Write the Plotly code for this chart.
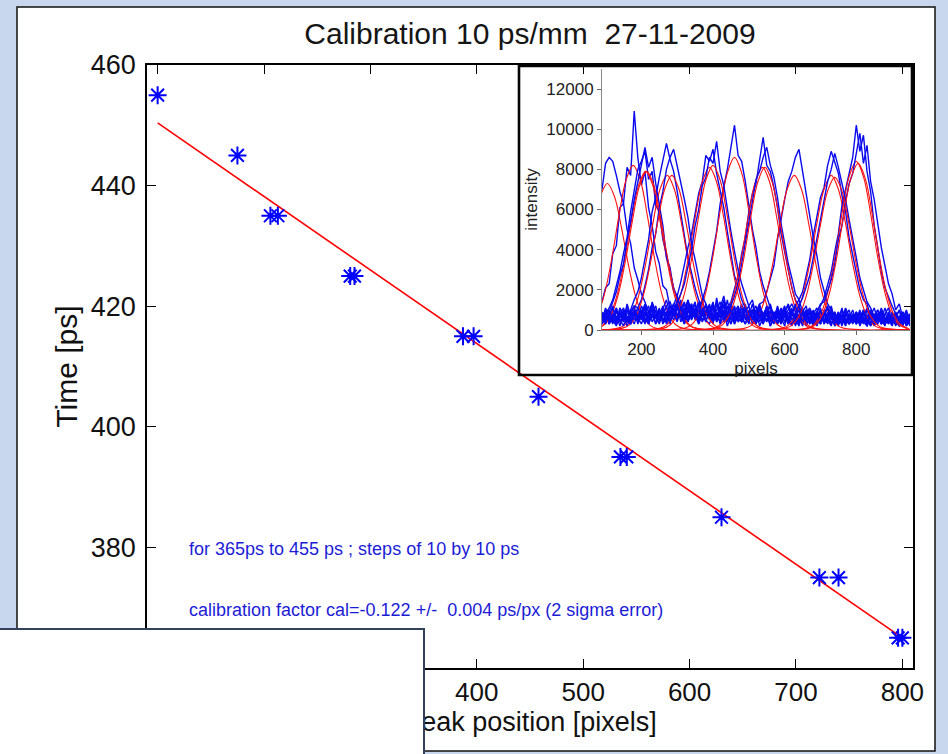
import plotly.graph_objects as go

W, H = 948, 754

# ---------------- main calibration data ----------------
peak_px = [100, 175, 206, 213, 281, 285, 387, 397, 458, 535, 541, 630, 722, 740, 796, 800]
time_ps = [455, 445, 435, 435, 425, 425, 415, 415, 405, 395, 395, 385, 375, 375, 365, 365]
fit_px = [100, 800]
fit_ps = [450.4, 365.0]

x_ticks = [100, 200, 300, 400, 500, 600, 700, 800]
y_ticks = [360, 380, 400, 420, 440, 460]

title_text = "Calibration 10 ps/mm\u00a0\u00a027-11-2009"
note_1 = "for 365ps to 455 ps ; steps of 10 by 10 ps"
note_2 = "calibration factor cal=-0.122 +/-\u00a0\u00a00.004 ps/px (2 sigma error)"

# ---------------- inset: measured spectra (x = 90..950 step 10) ----------------
inset_x = list(range(90, 951, 10))

spec_1 = [7000, 8300, 8600, 8400, 7700, 6900, 6300, 5000, 4300, 3100,
          2500, 1800, 1400, 900, 1300, 600, 900, 400, 800, 300,
          1000, 500, 800, 300, 1200, 600, 900, 400, 1100, 500,
          300, 800, 500, 1100, 400, 700, 300, 900, 600, 400,
          800, 400, 1000, 300, 700, 500, 900, 200, 600, 800,
          400, 700, 300, 900, 500, 200, 800, 400, 1000, 300,
          600, 300, 800, 400, 700, 900, 300, 600, 200, 700,
          300, 600, 900, 400, 200, 700, 500, 800, 300, 600,
          400, 700, 300, 500, 800, 200, 600]
spec_2 = [1400, 2100, 2300, 3800, 4200, 6100, 6300, 8100, 7700, 10900,
          8600, 7200, 7900, 6100, 5200, 3900, 3300, 2200, 2000, 1100,
          900, 1300, 600, 900, 400, 1200, 700, 300, 1000, 500,
          800, 300, 1400, 600, 900, 200, 700, 1100, 400, 600,
          300, 800, 500, 1000, 200, 600, 900, 400, 700, 300,
          600, 200, 900, 500, 300, 800, 400, 1000, 300, 500,
          200, 700, 400, 900, 300, 600, 200, 800, 500, 300,
          700, 300, 500, 1000, 200, 600, 400, 800, 300, 500,
          400, 700, 200, 600, 300, 500, 200]
spec_3 = [500, 800, 1100, 1500, 2200, 2900, 3800, 4600, 5900, 6900,
          8000, 8400, 8900, 7500, 7900, 6200, 5900, 4500, 3800, 2900,
          2100, 1600, 1200, 600, 900, 1300, 500, 800, 1500, 700,
          1000, 400, 1600, 800, 1200, 500, 900, 300, 700, 1100,
          600, 900, 300, 700, 1000, 400, 800, 200, 600, 900,
          300, 700, 500, 200, 800, 400, 1100, 300, 600, 200,
          800, 400, 600, 300, 900, 200, 500, 700, 300, 600,
          400, 800, 300, 600, 200, 900, 500, 300, 700, 400,
          600, 300, 800, 200, 500, 300, 600]
spec_4 = [300, 800, 400, 700, 500, 900, 600, 800, 1000, 1500,
          1900, 2600, 3600, 4500, 5900, 6600, 7600, 8400, 9300, 8500,
          7900, 6900, 5900, 4700, 3600, 2800, 2100, 1500, 1100, 900,
          600, 1200, 400, 900, 1500, 700, 1100, 300, 800, 1300,
          500, 1000, 700, 300, 900, 600, 1200, 400, 700, 300,
          900, 400, 600, 1000, 200, 700, 500, 800, 300, 600,
          400, 900, 300, 600, 1000, 400, 700, 200, 800, 500,
          600, 300, 900, 400, 700, 200, 600, 1000, 400, 300,
          500, 800, 300, 600, 200, 700, 400]
spec_5 = [400, 800, 300, 1100, 600, 900, 400, 1300, 700, 1000,
          500, 1200, 800, 400, 1400, 900, 600, 1100, 1500, 800,
          1300, 1700, 2400, 3300, 4100, 4800, 5900, 6800, 7400, 8700,
          8400, 9000, 7800, 7000, 6100, 4900, 3800, 2700, 2200, 1500,
          1100, 700, 1300, 500, 900, 300, 800, 1200, 400, 700,
          300, 800, 500, 1000, 400, 700, 200, 900, 600, 300,
          700, 300, 900, 500, 200, 800, 400, 600, 1000, 300,
          500, 900, 200, 600, 400, 800, 300, 700, 500, 200,
          800, 400, 600, 300, 700, 200, 500]
spec_6 = [700, 300, 900, 500, 200, 800, 400, 1000, 600, 300,
          900, 500, 1200, 300, 800, 600, 1100, 400, 900, 700,
          1300, 500, 1000, 1400, 600, 900, 700, 1200, 1500, 2100,
          2900, 4000, 4900, 6300, 7200, 8000, 9100, 10200, 8700, 8400,
          7400, 6200, 5000, 4100, 2900, 2200, 1600, 1100, 800, 600,
          1000, 400, 700, 300, 900, 500, 800, 200, 600, 1000,
          300, 600, 900, 400, 700, 200, 800, 500, 300, 700,
          400, 700, 300, 900, 500, 200, 600, 800, 400, 600,
          300, 700, 400, 200, 600, 300, 500]
spec_7 = [300, 600, 1000, 400, 700, 200, 900, 500, 300, 800,
          400, 1000, 600, 300, 800, 1200, 500, 900, 300, 700,
          1100, 600, 1500, 800, 400, 1200, 700, 1000, 500, 800,
          1300, 600, 1000, 1400, 700, 1100, 1400, 2000, 2700, 3800,
          4600, 5900, 6800, 7300, 8400, 9600, 8200, 7900, 7100, 6100,
          4800, 3900, 2900, 2100, 1500, 1200, 700, 1000, 400, 800,
          500, 1100, 300, 700, 900, 400, 600, 1000, 300, 500,
          800, 300, 600, 1000, 400, 700, 200, 500, 900, 300,
          600, 400, 800, 200, 500, 700, 300]
spec_8 = [500, 900, 300, 700, 1100, 400, 800, 200, 600, 1000,
          300, 700, 1100, 500, 800, 300, 1000, 600, 400, 900,
          700, 1200, 400, 900, 1400, 600, 1000, 300, 800, 1200,
          500, 900, 1300, 600, 1000, 400, 800, 1200, 500, 900,
          1200, 700, 1000, 900, 1300, 1400, 1900, 2600, 3200, 4500,
          5600, 6500, 7400, 7900, 8600, 9000, 7900, 6900, 5700, 4600,
          3700, 2600, 2000, 1300, 1000, 500, 900, 300, 700, 1000,
          400, 700, 300, 900, 500, 1000, 400, 600, 300, 800,
          500, 200, 700, 400, 900, 300, 600]
spec_9 = [800, 400, 1000, 600, 300, 900, 500, 1200, 400, 700,
          1100, 600, 900, 300, 1300, 700, 500, 1000, 800, 400,
          900, 1500, 600, 1100, 400, 800, 1300, 500, 1000, 700,
          1200, 500, 900, 300, 800, 1100, 600, 400, 1000, 700,
          300, 800, 500, 1000, 600, 300, 900, 400, 700, 1100,
          500, 900, 1300, 800, 1200, 1500, 1900, 2700, 3500, 4700,
          5700, 6600, 7100, 8200, 8900, 8400, 7800, 6700, 5900, 4600,
          3700, 2900, 2000, 1500, 1300, 700, 1100, 500, 800, 400,
          900, 300, 600, 1000, 400, 700, 300]
spec_10 = [400, 800, 300, 600, 1000, 500, 200, 700, 400, 900,
           600, 300, 800, 1200, 400, 700, 1000, 300, 600, 800,
           500, 1100, 700, 300, 900, 1300, 600, 1000, 400, 800,
           1000, 400, 700, 1200, 500, 900, 300, 800, 600, 1100,
           700, 300, 1000, 500, 800, 400, 1200, 600, 300, 900,
           400, 800, 600, 1100, 300, 700, 1000, 500, 800, 600,
           900, 1200, 1600, 2200, 2900, 3900, 4800, 6200, 7000, 7900,
           8600, 10200, 8900, 9700, 7900, 6900, 5200, 4100, 2900, 2100,
           1600, 1200, 800, 500, 900, 400, 700]
spec_11 = [300, 600, 900, 1400, 1900, 2700, 3300, 4500, 5400, 6500,
           7400, 8300, 9100, 8100, 8600, 7300, 6200, 5200, 3600, 3100,
           2000, 1700, 900, 1300, 600, 1000, 1400, 500, 900, 1200,
           700, 1300, 400, 1000, 700, 1500, 500, 900, 1200, 400,
           1000, 600, 900, 300, 1100, 700, 400, 900, 500, 1200,
           600, 1000, 300, 800, 500, 1200, 400, 700, 900, 300,
           700, 400, 1000, 600, 300, 900, 500, 1100, 400, 800,
           500, 900, 400, 700, 1100, 300, 800, 500, 1000, 600,
           300, 900, 500, 700, 400, 800, 500]
spec_12 = [600, 1000, 500, 800, 300, 1100, 700, 500, 900, 1200,
           1100, 1500, 2200, 3000, 4100, 4800, 6100, 6900, 8000, 8600,
           9000, 8200, 7400, 6500, 5600, 4300, 3500, 2600, 1700, 1300,
           900, 1400, 600, 1100, 1700, 800, 1300, 500, 1000, 700,
           1300, 500, 900, 1200, 400, 800, 1100, 600, 900, 400,
           700, 1100, 500, 800, 1300, 400, 900, 600, 1000, 500,
           900, 300, 700, 1100, 500, 800, 400, 1000, 600, 300,
           800, 500, 1000, 400, 700, 900, 300, 600, 1100, 500,
           700, 400, 900, 300, 600, 1000, 400]
spec_13 = [900, 500, 700, 1200, 400, 800, 1100, 600, 300, 900,
           700, 1000, 400, 900, 1300, 600, 1000, 700, 1200, 1400,
           900, 1400, 1800, 2300, 3200, 4000, 5200, 6000, 7200, 7600,
           8600, 8300, 9400, 7900, 7200, 6000, 4900, 3900, 3000, 2300,
           1700, 1200, 1500, 700, 1100, 500, 900, 1300, 600, 1000,
           400, 900, 1200, 500, 800, 300, 1000, 700, 400, 900,
           600, 1000, 400, 700, 1200, 500, 800, 300, 900, 600,
           1000, 400, 800, 600, 300, 900, 700, 400, 1000, 500,
           400, 800, 600, 1000, 300, 600, 800]
spec_14 = [600, 1000, 400, 800, 300, 1100, 700, 400, 900, 500,
           1100, 700, 300, 900, 600, 1000, 400, 800, 1200, 500,
           800, 1300, 600, 1000, 1500, 700, 1100, 400, 900, 1300,
           700, 1200, 500, 900, 1300, 800, 1200, 1700, 2300, 3300,
           4300, 5200, 6400, 7500, 7900, 8600, 9100, 8200, 7600, 6600,
           5300, 4300, 3300, 2600, 1800, 1500, 900, 1200, 500, 800,
           1100, 400, 800, 1200, 600, 300, 900, 500, 1100, 700,
           400, 900, 600, 300, 1000, 700, 400, 800, 500, 1100,
           600, 300, 900, 500, 700, 300, 800]
spec_15 = [500, 1100, 700, 300, 900, 600, 1000, 400, 800, 1200,
           400, 900, 1300, 600, 1000, 300, 800, 1200, 500, 900,
           1300, 700, 1100, 400, 1500, 900, 600, 1200, 800, 400,
           1000, 600, 1300, 800, 500, 1200, 900, 600, 1100, 400,
           900, 1200, 500, 800, 1300, 600, 1000, 400, 900, 600,
           1100, 700, 1000, 1300, 900, 1200, 1600, 2100, 2700, 3600,
           4600, 5500, 6400, 7400, 8000, 8800, 8100, 7300, 6500, 5500,
           4600, 3600, 2600, 2000, 1400, 1100, 700, 1000, 500, 800,
           1100, 400, 700, 300, 900, 500, 800]
spec_16 = [700, 300, 900, 500, 1100, 400, 800, 600, 300, 1000,
           500, 900, 400, 700, 1100, 600, 300, 900, 500, 1200,
           800, 400, 1200, 600, 1000, 500, 900, 1400, 700, 1000,
           600, 1100, 800, 400, 1300, 700, 1000, 500, 900, 600,
           1100, 600, 900, 400, 1200, 800, 500, 1000, 700, 400,
           800, 1200, 500, 900, 600, 1000, 400, 800, 1100, 700,
           900, 1300, 1400, 2000, 2500, 3300, 4500, 5200, 6400, 7300,
           7800, 8800, 9800, 8300, 9200, 7400, 6500, 5300, 4100, 3200,
           2300, 1800, 1000, 1300, 600, 900, 500]
spectra = [spec_1, spec_2, spec_3, spec_4, spec_5, spec_6, spec_7, spec_8,
           spec_9, spec_10, spec_11, spec_12, spec_13, spec_14, spec_15, spec_16]

# ---------------- inset: gaussian fits (read around each centre) ----------------
fit_centres = [105, 177, 212, 272, 390, 460, 538, 627, 730, 800,
               215, 285, 400, 545, 740, 805]
fit_offsets = [-140, -120, -100, -80, -60, -40, -20, 0, 20, 40, 60, 80, 100, 120, 140]
gfit_1 = [70, 220, 660, 1610, 3140, 5040, 6640, 7300, 6640, 5040, 3140, 1610, 660, 220, 70]
gfit_2 = [80, 250, 740, 1800, 3530, 5660, 7460, 8200, 7460, 5660, 3530, 1800, 740, 250, 80]
gfit_3 = [80, 240, 710, 1740, 3400, 5450, 7190, 7900, 7190, 5450, 3400, 1740, 710, 240, 80]
gfit_4 = [80, 230, 690, 1690, 3310, 5310, 7010, 7700, 7010, 5310, 3310, 1690, 690, 230, 80]
gfit_5 = [80, 240, 730, 1780, 3480, 5590, 7370, 8100, 7370, 5590, 3480, 1780, 730, 240, 80]
gfit_6 = [90, 260, 770, 1890, 3700, 5930, 7830, 8600, 7830, 5930, 3700, 1890, 770, 260, 90]
gfit_7 = [80, 240, 730, 1780, 3480, 5590, 7370, 8100, 7370, 5590, 3480, 1780, 730, 240, 80]
gfit_8 = [80, 230, 690, 1690, 3310, 5310, 7010, 7700, 7010, 5310, 3310, 1690, 690, 230, 80]
gfit_9 = [80, 230, 690, 1690, 3310, 5310, 7010, 7700, 7010, 5310, 3310, 1690, 690, 230, 80]
gfit_10 = [80, 250, 760, 1850, 3610, 5800, 7640, 8400, 7640, 5800, 3610, 1850, 760, 250, 80]
gfit_11 = [80, 240, 710, 1740, 3400, 5450, 7190, 7900, 7190, 5450, 3400, 1740, 710, 240, 80]
gfit_12 = [80, 230, 690, 1690, 3310, 5310, 7010, 7700, 7010, 5310, 3310, 1690, 690, 230, 80]
gfit_13 = [80, 250, 740, 1800, 3530, 5660, 7460, 8200, 7460, 5660, 3530, 1800, 740, 250, 80]
gfit_14 = [80, 240, 730, 1780, 3480, 5590, 7370, 8100, 7370, 5590, 3480, 1780, 730, 240, 80]
gfit_15 = [80, 230, 680, 1670, 3270, 5240, 6920, 7600, 6920, 5240, 3270, 1670, 680, 230, 80]
gfit_16 = [80, 250, 750, 1830, 3570, 5730, 7550, 8300, 7550, 5730, 3570, 1830, 750, 250, 80]
gfits = [gfit_1, gfit_2, gfit_3, gfit_4, gfit_5, gfit_6, gfit_7, gfit_8,
         gfit_9, gfit_10, gfit_11, gfit_12, gfit_13, gfit_14, gfit_15, gfit_16]

inset_x_ticks = [200, 400, 600, 800]
inset_y_ticks = [0, 2000, 4000, 6000, 8000, 10000, 12000]

FONT = "Liberation Sans, Arial, sans-serif"


def px_x(p):
    return p / W


def px_y(p):
    return 1 - p / H


fig = go.Figure()

# inset: each measured spectrum followed by its gaussian fit
for s, c, g in zip(spectra, fit_centres, gfits):
    fig.add_trace(go.Scatter(x=inset_x[:len(s)], y=s, mode="lines",
                             line=dict(color="#0a0af0", width=1.4),
                             xaxis="x2", yaxis="y2", hoverinfo="skip"))
    xs = [c + o for o in fit_offsets]
    ys = list(g)
    if xs[0] > inset_x[0]:
        xs = [inset_x[0]] + xs
        ys = [0] + ys
    if xs[-1] < inset_x[-1]:
        xs = xs + [inset_x[-1]]
        ys = ys + [0]
    fig.add_trace(go.Scatter(x=xs, y=ys, mode="lines", line_shape="spline",
                             line=dict(color="#ff1010", width=1.1),
                             xaxis="x2", yaxis="y2", hoverinfo="skip"))

# main fit line and points
fig.add_trace(go.Scatter(x=fit_px, y=fit_ps, mode="lines",
                         line=dict(color="#ff0000", width=1.6),
                         xaxis="x", yaxis="y"))
fig.add_trace(go.Scatter(x=peak_px, y=time_ps, mode="markers",
                         marker=dict(symbol="asterisk-open", size=15, color="#0000ff",
                                     line=dict(color="#0000ff", width=2)),
                         xaxis="x", yaxis="y"))
# carrier for the x-axis caption (drawn as tick label so the overlay box can hide part of it)
fig.add_trace(go.Scatter(x=[], y=[], xaxis="x3", yaxis="y", hoverinfo="skip"))

main_dom_x = [px_x(147), px_x(913)]
main_dom_y = [px_y(668), px_y(65)]

axis_common = dict(showgrid=False, zeroline=False, showline=True, linecolor="black",
                   linewidth=1.6, mirror="ticks", ticks="inside", ticklen=9,
                   tickwidth=1.4, tickcolor="black", automargin=False)

fig.update_layout(
    template="none",
    width=W, height=H,
    margin=dict(l=0, r=0, t=0, b=0, pad=0, autoexpand=False),
    paper_bgcolor="#c9d7ee",
    plot_bgcolor="rgba(0,0,0,0)",
    showlegend=False,
    title=dict(text=title_text, x=px_x(530), y=px_y(33), xanchor="center",
               yanchor="middle", xref="paper", yref="paper", automargin=False,
               font=dict(family=FONT, size=30, color="#151515")),
    xaxis=dict(domain=main_dom_x, range=[90, 810], tickvals=x_ticks, anchor="y",
               tickfont=dict(family=FONT, size=26, color="#111111"),
               **axis_common),
    yaxis=dict(domain=main_dom_y, range=[360, 460], tickvals=y_ticks, anchor="x",
               tickfont=dict(family=FONT, size=27, color="#111111"),
               title=dict(text="Time [ps]", standoff=4,
                          font=dict(family=FONT, size=30, color="#111111")),
               ticklabelstandoff=4,
               **axis_common),
    xaxis3=dict(overlaying="x", anchor="y", side="bottom", range=[90, 810],
                tickmode="array", tickvals=[450], ticktext=["Peak position [pixels]"],
                ticks="outside", ticklen=30, tickcolor="rgba(0,0,0,0)",
                showline=False, showgrid=False, zeroline=False, automargin=False,
                tickfont=dict(family=FONT, size=27, color="#111111")),
    xaxis2=dict(domain=[px_x(602), px_x(910)], range=[90, 950], anchor="y2",
                tickvals=inset_x_ticks, showgrid=False, zeroline=False,
                showline=True, linecolor="#888888", linewidth=1, automargin=False,
                ticks="outside", ticklen=4, tickcolor="#666666",
                tickfont=dict(family=FONT, size=17, color="#222222"),
                title=dict(text="pixels", standoff=0,
                           font=dict(family=FONT, size=17, color="#222222"))),
    yaxis2=dict(domain=[px_y(330), px_y(69)], range=[0, 13000], anchor="x2",
                tickvals=inset_y_ticks, tickformat="d", showgrid=False, zeroline=False,
                showline=True, linecolor="#888888", linewidth=1, automargin=False,
                ticks="outside", ticklen=4, tickcolor="#666666",
                tickfont=dict(family=FONT, size=17, color="#222222"),
                title=dict(text="intensity", standoff=4,
                           font=dict(family=FONT, size=17, color="#222222"))),
)

shapes = [
    # white page
    dict(type="rect", xref="paper", yref="paper", layer="below",
         x0=px_x(17), x1=px_x(935), y0=px_y(751), y1=px_y(7),
         fillcolor="white", line=dict(color="#101010", width=1.5)),
    # inset white panel
    dict(type="rect", xref="paper", yref="paper", layer="below",
         x0=px_x(519), x1=px_x(912), y0=px_y(375), y1=px_y(65),
         fillcolor="white", line=dict(width=0)),
    # inset frame
    dict(type="rect", xref="paper", yref="paper", layer="above",
         x0=px_x(519), x1=px_x(912), y0=px_y(375), y1=px_y(66),
         fillcolor="rgba(0,0,0,0)", line=dict(color="#050505", width=2.6)),
    # overlapping white box in the lower left
    dict(type="rect", xref="paper", yref="paper", layer="above",
         x0=-0.02, x1=px_x(424), y0=-0.02, y1=px_y(629),
         fillcolor="white", line=dict(color="#33425a", width=2)),
]
fig.update_layout(shapes=shapes)

fig.add_annotation(text=note_1, xref="paper", yref="paper", x=px_x(187), y=px_y(549),
                   xanchor="left", yanchor="middle", showarrow=False,
                   font=dict(family=FONT, size=18, color="#1c1cd6"))
fig.add_annotation(text=note_2, xref="paper", yref="paper", x=px_x(187), y=px_y(610),
                   xanchor="left", yanchor="middle", showarrow=False,
                   font=dict(family=FONT, size=18, color="#1c1cd6"))

fig.write_html("out.html")
